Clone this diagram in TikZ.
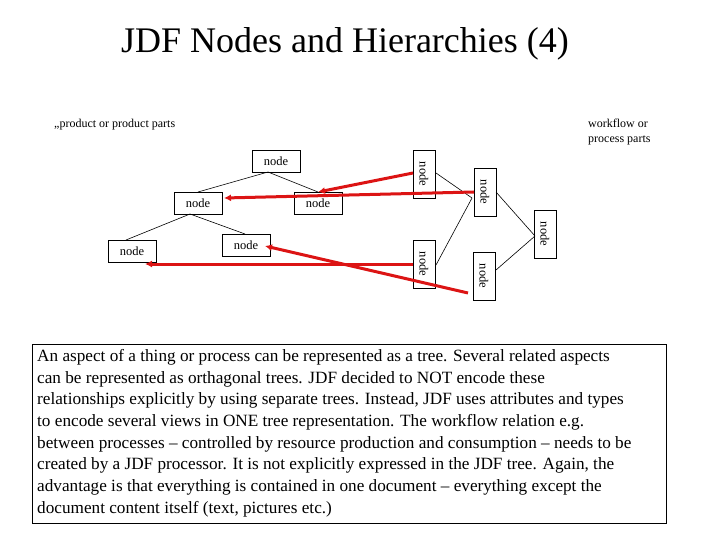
\documentclass[tikz,border=0pt]{standalone}
\usepackage{fontspec}
\setmainfont{Liberation Serif}
\begin{document}
\begin{tikzpicture}[x=1pt,y=-1pt,
  nd/.style={draw,line width=0.6pt,minimum width=48pt,minimum height=22pt,inner sep=0pt,font=\fontsize{12.5}{14}\selectfont},
  vn/.style={nd,rotate=-90},
  ed/.style={line width=0.6pt},
  ra/.style={draw={rgb,255:red,220;green,20;blue,20},line width=3pt,-{Latex[length=7pt,width=7pt]}}]
\usetikzlibrary{arrows.meta}
\useasboundingbox (0,0) rectangle (720,540);
\node[font=\fontsize{36}{40}\selectfont] (title) at (345,44) {JDF Nodes and Hierarchies (4)};
\node[anchor=west,font=\fontsize{12}{13}\selectfont,inner sep=0pt] (lp) at (54,125) {„product or product parts};
\node[anchor=north west,align=left,font=\fontsize{12}{15}\selectfont,inner sep=0pt] (rp) at (588,119) {workflow or\\process parts};
\node[nd] (t) at (276,161) {node};
\node[nd] (ml) at (198,203) {node};
\node[nd] (mr) at (318,203) {node};
\node[nd] (bl) at (132,251) {node};
\node[nd] (bm) at (246,245) {node};
\node[vn] (A) at (424,174) {node};
\node[vn] (B) at (485,192) {node};
\node[vn] (C) at (545,234) {node};
\node[vn] (D) at (424,264) {node};
\node[vn] (E) at (484,276) {node};
\coordinate (j1) at (472,198);
\coordinate (j2) at (535,236);
\draw[ed] (268,172) -- (198,192);
\draw[ed] (268,172) -- (318,192);
\draw[ed] (190,214) -- (126,240);
\draw[ed] (190,214) -- (245,234);
\draw[ed] (436,173) -- (j1);
\draw[ed] (436,265) -- (j1);
\draw[ed] (496,192) -- (j2);
\draw[ed] (496,270) -- (j2);
\draw[ra] (413,173) -- (318,192);
\draw[ra] (474,192) -- (224,198);
\draw[ra] (413,264) -- (145,264);
\draw[ra] (468,293) -- (265,246);
\node[draw,line width=0.6pt,anchor=north west,minimum width=634pt,minimum height=179pt,inner sep=0pt] (box) at (32,344) {};
\node[anchor=north west,align=left,inner sep=0pt,font=\fontsize{17.2}{21.7}\selectfont] (txt) at (37,349) {An aspect of a thing or process can be represented as a tree. Several related aspects\\can be represented as orthagonal trees. JDF decided to NOT encode these\\relationships explicitly by using separate trees. Instead, JDF uses attributes and types\\to encode several views in ONE tree representation. The workflow relation e.g.\\between processes – controlled by resource production and consumption – needs to be\\created by a JDF processor. It is not explicitly expressed in the JDF tree. Again, the\\advantage is that everything is contained in one document – everything except the\\document content itself (text, pictures etc.)};
\end{tikzpicture}
\end{document}
